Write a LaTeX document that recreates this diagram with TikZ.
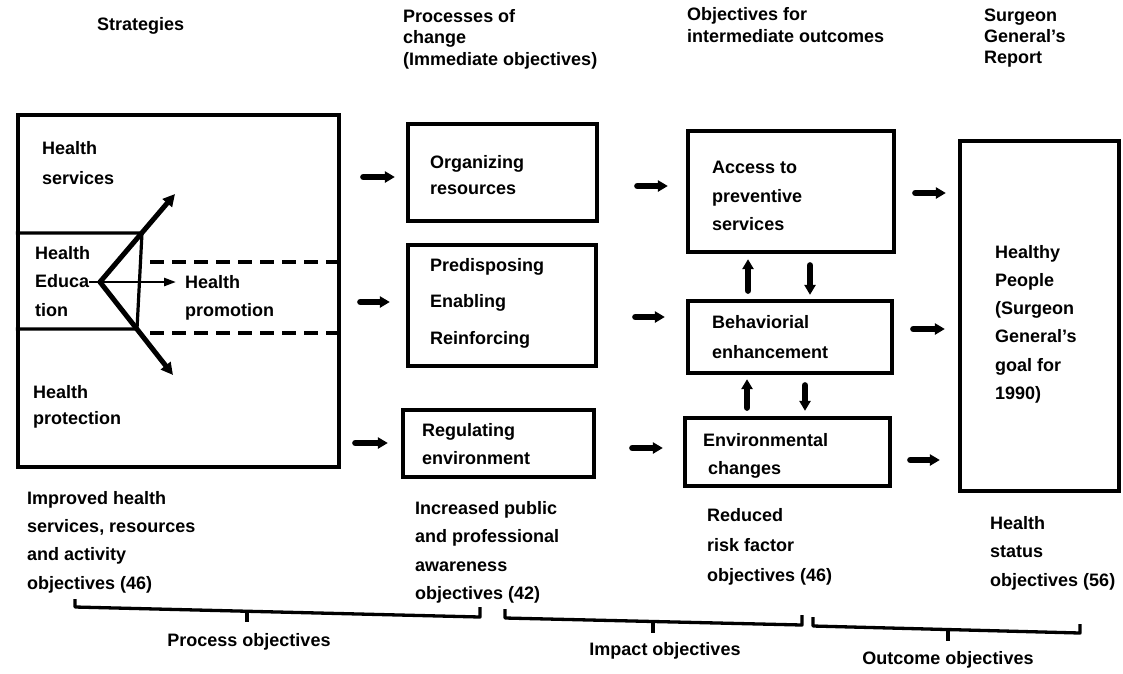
\documentclass[tikz,border=0pt]{standalone}
\usepackage{fontspec}
\setmainfont{Liberation Sans}
\usetikzlibrary{arrows.meta}
\begin{document}
\begin{tikzpicture}[x=1pt,y=-1pt,
  box/.style={draw, line width=4.3pt, rectangle, inner sep=0pt},
  txt/.style={anchor=north west, align=left, inner sep=0pt,
              font=\bfseries\fontsize{18}{28.5}\selectfont},
  lsp/.style={font=\bfseries\fontsize{18}{#1}\selectfont},
  lbl/.style={anchor=base, inner sep=0pt, font=\bfseries\fontsize{18}{22}\selectfont},
  flow/.style={line width=6pt, line cap=round, -{Triangle[length=10pt,width=11pt]}},
  fanarrow/.style={line width=5pt, line cap=round, -{Triangle[length=12pt,width=12pt]}},
  thinarrow/.style={line width=2.5pt, -{Triangle[length=12pt,width=8pt]}},
  inner/.style={line width=3.2pt},
  dashline/.style={line width=4pt, dash pattern=on 14pt off 8pt},
  brk/.style={line width=3.3pt, line join=round}
]
\useasboundingbox (0,0) rectangle (1123,673);

% column headings (positions give the top of the first line)
\node[txt] (hStrat) at (97,17) {Strategies};
\node[txt, lsp=21.5] (hProc) at (403,9) {Processes of\\change\\(Immediate objectives)};
\node[txt, lsp=22] (hObj) at (687,7) {Objectives for\\intermediate outcomes};
\node[txt, lsp=21] (hSurg) at (984,9) {Surgeon\\General's\\Report};

% boxes
\node[box, minimum width=321pt, minimum height=352pt] (strat) at (178.5,291) {};
\node[box, minimum width=189pt, minimum height=97pt]  (org) at (502.5,172.5) {};
\node[box, minimum width=188pt, minimum height=121pt] (pre) at (502,305.5) {};
\node[box, minimum width=191pt, minimum height=67pt]  (reg) at (498.5,443.5) {};
\node[box, minimum width=206pt, minimum height=121pt] (acc) at (791,191.5) {};
\node[box, minimum width=204pt, minimum height=72pt]  (beh) at (790,337) {};
\node[box, minimum width=205pt, minimum height=68pt]  (env) at (787.5,452) {};
\node[box, minimum width=159pt, minimum height=350pt] (hp) at (1039.5,316) {};

% strategies box contents
\node[txt, lsp=30] (tServ) at (42,141) {Health\\services};
\node[txt] (tEdu) at (35,246) {Health\\Educa\\tion};
\node[txt, lsp=28] (tProm) at (185,275) {Health\\promotion};
\node[txt, lsp=26.5] (tProt) at (33,385) {Health\\protection};

\coordinate (fan) at (100,282);
\coordinate (eUp) at (142,233);
\coordinate (eDn) at (137,329);
\coordinate (tUp) at (175,194);
\coordinate (tDn) at (173,375);
\coordinate (hy) at (89,282);
\coordinate (tMid) at (176,282);
\coordinate (d1) at (150,262);
\coordinate (d2) at (150,333);

\draw[inner] (strat.west |- eUp) -- (eUp) -- (eDn) -- (strat.west |- eDn);
\draw[fanarrow] (fan) -- (tUp);
\draw[fanarrow] (fan) -- (tDn);
\draw[thinarrow] (hy) -- (tMid);
\draw[dashline] (d1) -- (strat.east |- d1);
\draw[dashline] (d2) -- (strat.east |- d2);

% process box contents
\node[txt, lsp=26] (tOrg) at (430,155) {Organizing\\resources};
\node[txt, lsp=36.5] (tPre) at (430,258) {Predisposing\\Enabling\\Reinforcing};
\node[txt, lsp=28] (tReg) at (422,423) {Regulating\\environment};

% intermediate outcome box contents
\node[txt] (tAcc) at (712,161) {Access to\\preventive\\services};
\node[txt, lsp=30] (tBeh) at (712,315) {Behaviorial\\enhancement};
\node[txt, lsp=28] (tEnv) at (703,433) {Environmental\\\hspace*{5pt}changes};
\node[txt, lsp=28.2] (tHP) at (995,245) {Healthy\\People\\(Surgeon\\General's\\goal for\\1990)};

% row levels of the flow arrows
\coordinate (a1) at (0,177); \coordinate (a2) at (0,302); \coordinate (a3) at (0,443);
\coordinate (b1) at (0,186); \coordinate (b2) at (0,317); \coordinate (b3) at (0,448);
\coordinate (c1) at (0,193); \coordinate (c2) at (0,329); \coordinate (c3) at (0,460);

\draw[flow, shorten <=22pt, shorten >=11pt] (strat.east |- a1) -- (org.west |- a1);
\draw[flow, shorten <=19pt, shorten >=16pt] (strat.east |- a2) -- (pre.west |- a2);
\draw[flow, shorten <=14pt, shorten >=13pt] (strat.east |- a3) -- (reg.west |- a3);

\draw[flow, shorten <=38pt, shorten >=18pt] (org.east |- b1) -- (acc.west |- b1);
\draw[flow, shorten <=37pt, shorten >=21pt] (pre.east |- b2) -- (beh.west |- b2);
\draw[flow, shorten <=36pt, shorten >=20pt] (reg.east |- b3) -- (env.west |- b3);

\draw[flow, shorten <=19pt, shorten >=12pt] (acc.east |- c1) -- (hp.west |- c1);
\draw[flow, shorten <=19pt, shorten >=13pt] (beh.east |- c2) -- (hp.west |- c2);
\draw[flow, shorten <=18pt, shorten >=18pt] (env.east |- c3) -- (hp.west |- c3);

% two-way links between the outcome boxes
\coordinate (u1) at (748,0); \coordinate (v1) at (810,0);
\coordinate (u2) at (747,0); \coordinate (v2) at (805,0);
\draw[flow, shorten <=8pt, shorten >=5pt] (beh.north -| u1) -- (acc.south -| u1);
\draw[flow, shorten <=11pt, shorten >=4pt] (acc.south -| v1) -- (beh.north -| v1);
\draw[flow, shorten <=8pt, shorten >=4pt] (env.north -| u2) -- (beh.south -| u2);
\draw[flow, shorten <=10pt, shorten >=5pt] (beh.south -| v2) -- (env.north -| v2);

% objective counts
\node[txt, lsp=28.3] (oProc) at (27,491) {Improved health\\services, resources\\and activity\\objectives (46)};
\node[txt] (oAware) at (415,501) {Increased public\\and professional\\awareness\\objectives (42)};
\node[txt, lsp=30] (oRisk) at (707,508) {Reduced\\risk factor\\objectives (46)};
\node[txt] (oStat) at (990,516) {Health\\status\\objectives (56)};

% brackets
\draw[brk] (75,599) -- (75,607) -- (480,617) -- (480,607);
\draw[brk] (247,611) -- (247,622);
\draw[brk] (505,609) -- (505,618) -- (802,625) -- (802,615);
\draw[brk] (653,621.5) -- (653,633);
\draw[brk] (813,617) -- (813,626) -- (1080,633) -- (1080,624);
\draw[brk] (948,629.5) -- (948,641);

\node[lbl] (lProc) at (249,646) {Process objectives};
\node[lbl] (lImp) at (665,655) {Impact objectives};
\node[lbl] (lOut) at (948,664) {Outcome objectives};
\end{tikzpicture}
\end{document}
